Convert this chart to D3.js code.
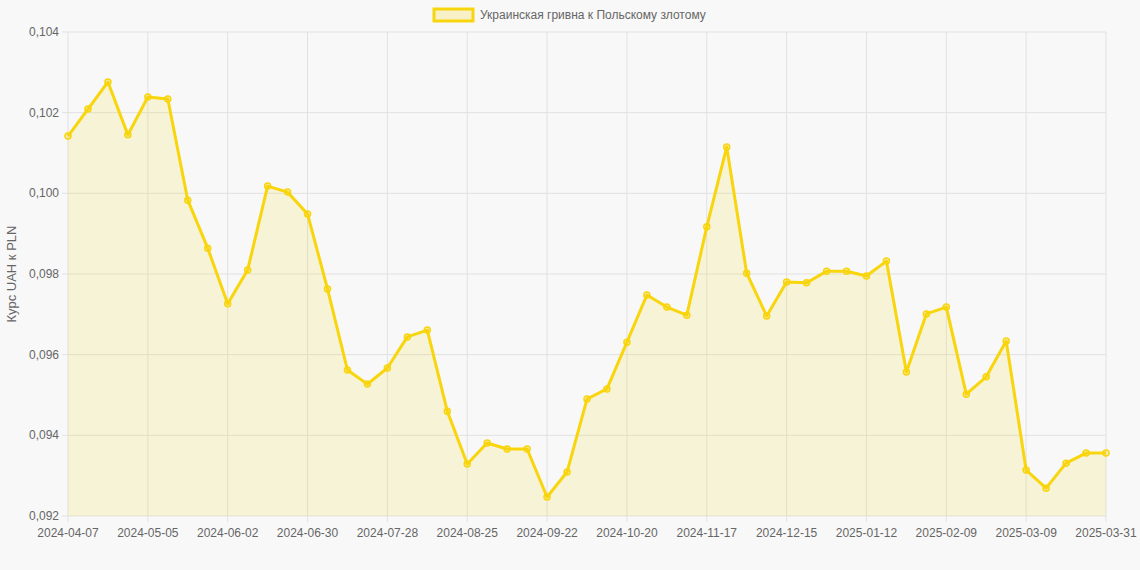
<!DOCTYPE html>
<html><head><meta charset="utf-8">
<script src="https://d3js.org/d3.v7.min.js"></script>
<style>body{margin:0;background:#f8f8f8;font-family:"Liberation Sans",Arial,sans-serif}</style>
</head><body><div id="chart"></div>
<script>
const seriesName = "Украинская гривна к Польскому злотому";
const values = [0.10142,0.10209,0.10276,0.10145,0.10239,0.10234,0.09983,0.09864,0.09726,0.09810,
  0.10018,0.10003,0.09949,0.09763,0.09562,0.09527,0.09567,0.09644,0.09661,0.09460,
  0.09329,0.09381,0.09366,0.09366,0.09247,0.09309,0.09490,0.09515,0.09631,0.09748,
  0.09718,0.09698,0.09917,0.10115,0.09802,0.09696,0.09780,0.09778,0.09807,0.09807,
  0.09795,0.09832,0.09557,0.09701,0.09718,0.09502,0.09545,0.09634,0.09314,0.09269,
  0.09331,0.09356,0.09356];
const tickLabels = ["2024-04-07","2024-05-05","2024-06-02","2024-06-30","2024-07-28","2024-08-25",
  "2024-09-22","2024-10-20","2024-11-17","2024-12-15","2025-01-12","2025-02-09","2025-03-09","2025-03-31"];
const yTicks = [0.092,0.094,0.096,0.098,0.100,0.102,0.104];

// index of each category; labels sit on every 4th week plus the last one
const idx = d3.range(values.length);
const labelAt = i => i === values.length - 1 ? tickLabels[tickLabels.length - 1] : (i % 4 === 0 ? tickLabels[i / 4] : null);

const width = 1140, height = 570;
const m = {left: 68, right: 34, top: 32, bottom: 54};
const svg = d3.select("#chart").append("svg").attr("width", width).attr("height", height);

const x = d3.scaleLinear().domain([0, values.length - 1]).range([m.left, width - m.right]);
const y = d3.scaleLinear().domain([0.092, 0.104]).range([height - m.bottom, m.top]);

// grid
svg.append("g").selectAll("line").data(idx.filter(i => labelAt(i))).enter().append("line")
  .attr("x1", d => x(d)).attr("x2", d => x(d)).attr("y1", m.top).attr("y2", height - m.bottom + 6)
  .style("stroke", "#e1e1e1");
svg.append("g").selectAll("line").data(yTicks).enter().append("line")
  .attr("x1", m.left - 6).attr("x2", width - m.right).attr("y1", d => y(d)).attr("y2", d => y(d))
  .style("stroke", "#e1e1e1");

// axis labels
svg.append("g").selectAll("text").data(yTicks).enter().append("text")
  .attr("x", m.left - 9).attr("y", d => y(d) + 4).attr("text-anchor", "end")
  .style("font-size", "12px").style("fill", "#666")
  .text(d => d3.format(".3f")(d).replace(".", ","));
svg.append("g").selectAll("text").data(idx.filter(i => labelAt(i))).enter().append("text")
  .attr("x", d => x(d)).attr("y", height - m.bottom + 21).attr("text-anchor", "middle")
  .style("font-size", "12px").style("fill", "#666").text(d => labelAt(d));
svg.append("text").attr("transform", `translate(16,${(m.top + height - m.bottom) / 2}) rotate(-90)`)
  .attr("text-anchor", "middle").style("font-size", "13px").style("fill", "#666").text("Курс UAH к PLN");

// area + line
svg.append("path").datum(values)
  .attr("d", d3.area().x((d, i) => x(i)).y0(y(0.092)).y1(d => y(d)))
  .style("fill", "rgba(245,215,40,0.16)");
svg.append("path").datum(values)
  .attr("d", d3.line().x((d, i) => x(i)).y(d => y(d)))
  .style("fill", "none").style("stroke", "#f8d50c").style("stroke-width", 3).style("stroke-linejoin", "round");
svg.append("g").selectAll("circle").data(values).enter().append("circle")
  .attr("cx", (d, i) => x(i)).attr("cy", d => y(d)).attr("r", 3)
  .style("fill", "rgba(248,213,12,0.25)").style("stroke", "#f8d50c").style("stroke-width", 1.5);

// legend
const lg = svg.append("g");
lg.append("rect").attr("x", 434).attr("y", 9).attr("width", 39).attr("height", 12)
  .style("fill", "rgba(248,213,12,0.2)").style("stroke", "#f8d50c").style("stroke-width", 3);
lg.append("text").attr("x", 480).attr("y", 19).style("font-size", "12px").style("fill", "#666").text(seriesName);
</script></body></html>
